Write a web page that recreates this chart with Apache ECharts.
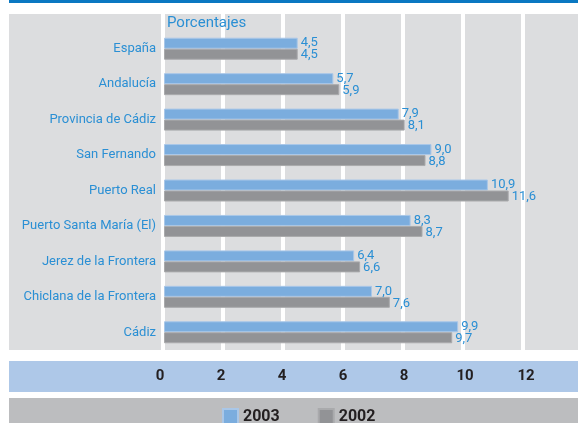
<!DOCTYPE html>
<html>
<head>
<meta charset="utf-8">
<script src="https://cdn.jsdelivr.net/npm/echarts@6/dist/echarts.min.js"></script>
<style>
  html, body { margin: 0; padding: 0; background: #fff; }
  #chart { width: 578px; height: 423px; }
</style>
</head>
<body>
<div id="chart"></div>
<script>
// Datos: porcentajes por territorio
const territorios = [
  'España',
  'Andalucía',
  'Provincia de Cádiz',
  'San Fernando',
  'Puerto Real',
  'Puerto Santa María (El)',
  'Jerez de la Frontera',
  'Chiclana de la Frontera',
  'Cádiz'
];
const valores2003 = [4.5, 5.7, 7.9, 9.0, 10.9, 8.3, 6.4, 7.0, 9.9];
const valores2002 = [4.5, 5.9, 8.1, 8.8, 11.6, 8.7, 6.6, 7.6, 9.7];
const ticksX = [0, 2, 4, 6, 8, 10, 12];

const FONT = 'Roboto, "Liberation Sans", sans-serif';
const AZUL_TEXTO = '#2a8fd4';
const GRIS_PANEL = '#dcdddf';

const fmt = v => v.toFixed(1).replace('.', ',');

const barLabel = dy => ({
  show: true,
  position: 'right',
  distance: 3,
  offset: [0, dy],
  color: AZUL_TEXTO,
  fontFamily: FONT,
  fontSize: 13,
  formatter: p => fmt(p.value)
});

const chart = echarts.init(document.getElementById('chart'));

chart.setOption({
  animation: false,
  backgroundColor: '#fff',
  title: {
    text: 'Porcentajes',
    left: 167,
    top: 16,
    padding: 0,
    textStyle: { color: AZUL_TEXTO, fontFamily: FONT, fontSize: 15, fontWeight: 'normal' }
  },
  legend: {
    data: ['2003', '2002'],
    left: 222,
    top: 408,
    padding: 0,
    icon: 'rect',
    itemWidth: 15,
    itemHeight: 15,
    itemGap: 38,
    textStyle: { color: '#231f20', fontFamily: FONT, fontSize: 16, fontWeight: 'bold' }
  },
  graphic: [
    // franja azul superior
    { type: 'rect', shape: { x: 9, y: 0, width: 569, height: 3 }, style: { fill: '#0a78c2' }, z: -10 },
    // zona de etiquetas
    { type: 'rect', shape: { x: 9, y: 14, width: 152, height: 336 }, style: { fill: GRIS_PANEL }, z: -10 },
    // franja del eje
    { type: 'rect', shape: { x: 9, y: 361, width: 569, height: 31 }, style: { fill: '#aec8e8' }, z: -10 },
    // franja de leyenda
    { type: 'rect', shape: { x: 9, y: 398, width: 569, height: 25 }, style: { fill: '#bcbdbf' }, z: -10 }
  ],
  grid: [
    // fondo con líneas blancas
    { left: 163, width: 420, top: 14, bottom: 73, outerBoundsMode: 'none', show: true, backgroundColor: GRIS_PANEL, borderWidth: 0 },
    // barras
    { left: 164, width: 416, top: 31, bottom: 73, outerBoundsMode: 'none' },
    // escala impresa en la franja azul (algo más ancha en el original)
    { left: 160, width: 427, top: 31, bottom: 73, outerBoundsMode: 'none' }
  ],
  xAxis: [
    {
      gridIndex: 0,
      type: 'value',
      min: 0,
      max: 14,
      interval: 2,
      axisLine: { show: false },
      axisTick: { show: false },
      axisLabel: { show: false },
      splitLine: { show: true, lineStyle: { color: '#fff', width: 4 } }
    },
    {
      gridIndex: 1,
      type: 'value',
      min: 0,
      max: 14,
      interval: 2,
      axisLine: { show: false },
      axisTick: { show: false },
      axisLabel: { show: false },
      splitLine: { show: false }
    },
    {
      gridIndex: 2,
      type: 'value',
      min: 0,
      max: 14,
      interval: 2,
      axisLine: { show: false },
      axisTick: { show: false },
      splitLine: { show: false },
      axisLabel: {
        margin: 19,
        color: '#231f20',
        fontFamily: FONT,
        fontSize: 15,
        fontWeight: 'bold',
        formatter: v => (ticksX.includes(v) ? String(v) : '')
      }
    }
  ],
  yAxis: [
    { gridIndex: 0, type: 'value', show: false, splitLine: { show: false } },
    {
      gridIndex: 1,
      type: 'category',
      inverse: true,
      data: territorios,
      axisLine: { show: false },
      axisTick: { show: false },
      axisLabel: {
        margin: 8,
        color: AZUL_TEXTO,
        fontFamily: FONT,
        fontSize: 13
      }
    },
    { gridIndex: 2, type: 'value', show: false, splitLine: { show: false } }
  ],
  series: [
    {
      name: '2003',
      type: 'bar',
      xAxisIndex: 1,
      yAxisIndex: 1,
      data: valores2003,
      barWidth: 11,
      barGap: '0%',
      itemStyle: { color: '#7badde', borderColor: '#a9c7e8', borderWidth: 1 },
      label: barLabel(0)
    },
    {
      name: '2002',
      type: 'bar',
      xAxisIndex: 1,
      yAxisIndex: 1,
      data: valores2002,
      barWidth: 11,
      itemStyle: { color: '#929396', borderColor: '#a9aaac', borderWidth: 1 },
      label: barLabel(1)
    }
  ]
});
</script>
</body>
</html>
